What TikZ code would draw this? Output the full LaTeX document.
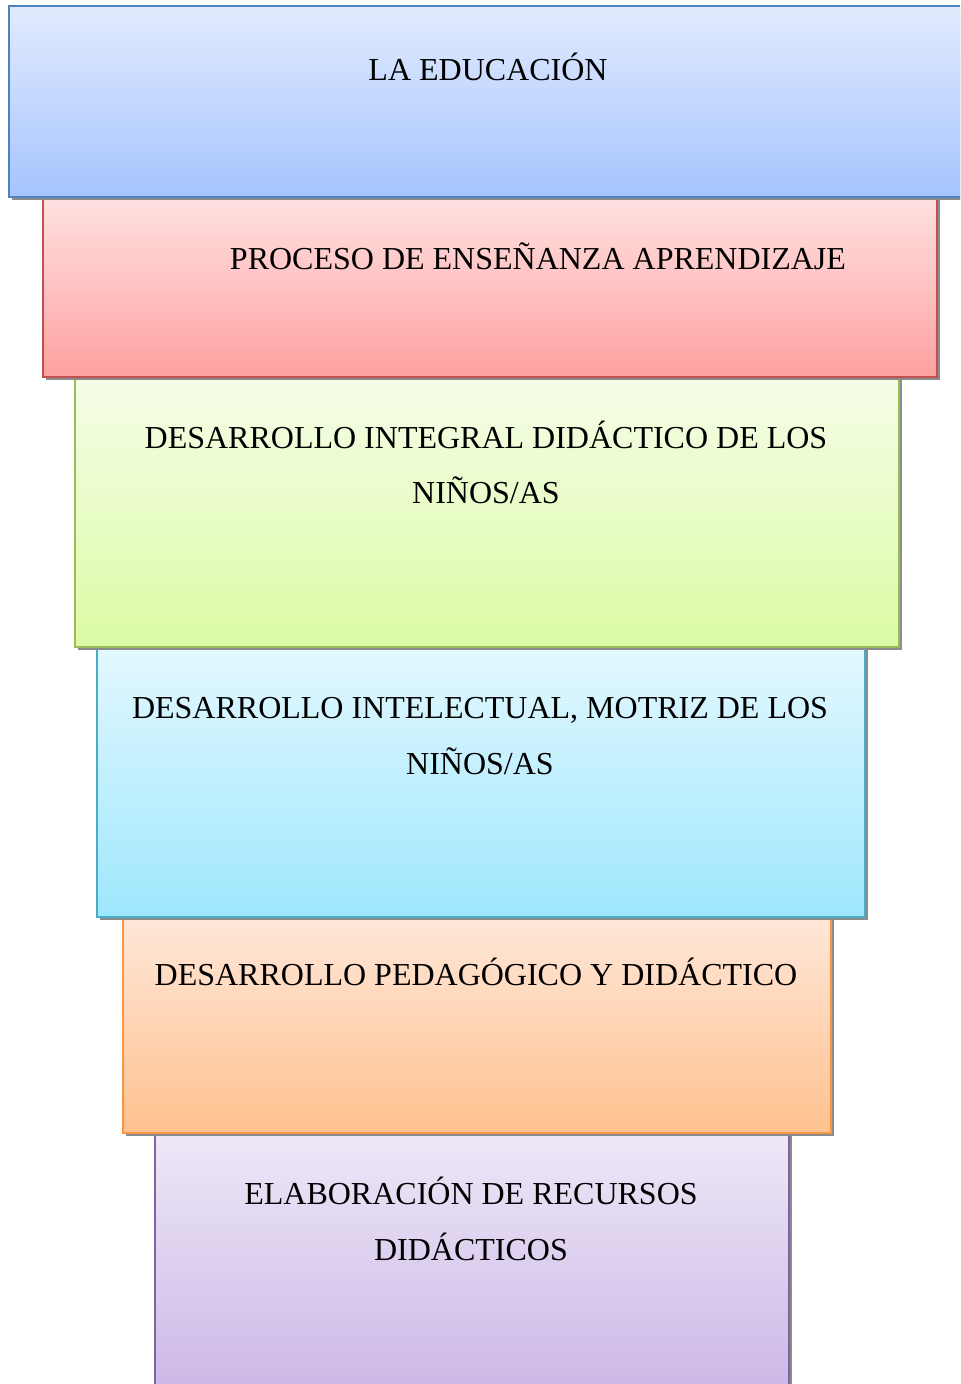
\documentclass[tikz,border=0pt]{standalone}
\usepackage{fontspec}
\setmainfont{Liberation Serif}
\usetikzlibrary{shadows}

\definecolor{blueTop}{HTML}{E2EBFE}
\definecolor{blueBot}{HTML}{A5C4FE}
\definecolor{blueLine}{HTML}{4F81BD}
\definecolor{redTop}{HTML}{FFE1E1}
\definecolor{redBot}{HTML}{FFA1A1}
\definecolor{redLine}{HTML}{C0504D}
\definecolor{greenTop}{HTML}{F5FDE8}
\definecolor{greenBot}{HTML}{DCFBA4}
\definecolor{greenLine}{HTML}{9BBB59}
\definecolor{cyanTop}{HTML}{E3F8FF}
\definecolor{cyanBot}{HTML}{9EE7FD}
\definecolor{cyanLine}{HTML}{4BACC6}
\definecolor{orangeTop}{HTML}{FFE7D8}
\definecolor{orangeBot}{HTML}{FFC18F}
\definecolor{orangeLine}{HTML}{F79646}
\definecolor{purpleTop}{HTML}{EEE8F7}
\definecolor{purpleBot}{HTML}{C9B4E6}
\definecolor{purpleLine}{HTML}{8064A2}

\tikzset{
  layer/.style={rectangle, draw=#1Line, line width=1.2pt, top color=#1Top, bottom color=#1Bot,
    drop shadow={shadow xshift=2pt, shadow yshift=-2pt, fill=black!45, opacity=1}},
  lbl/.style={align=center, inner sep=0pt, font=\fontsize{24}{41.5}\selectfont},
}

\begin{document}
\begin{tikzpicture}[x=0.75pt, y=-0.75pt]
  \useasboundingbox (0,0) rectangle (960,1384);
  \clip (0,0) rectangle (960,1384);
  % stack, drawn from the bottom up so each shadow lies on the box below
  \foreach \n/\l/\t/\r/\b/\c in {recursos/155/1133/789/1410/purple, pedagogico/123/917/831/1133/orange,
      intelectual/97/647/865/917/cyan, integral/75/377/899/647/green,
      proceso/43/197/937/377/red, educacion/9/6/980/197/blue} {
    \node[layer=\c, minimum width={(\r-\l)*0.75pt}, minimum height={(\b-\t)*0.75pt}]
      (\n) at ({(\l+\r)/2},{(\t+\b)/2}) {};
  }

  \node[lbl] (educacionT) at (488,66.5) {LA EDUCACIÓN};
  \node[lbl] (procesoT) at (538,256) {PROCESO DE ENSEÑANZA APRENDIZAJE};
  \node[lbl] (integralT) at (486,462.5) {DESARROLLO INTEGRAL DIDÁCTICO DE LOS\\NIÑOS/AS};
  \node[lbl] (intelectualT) at (480,736) {DESARROLLO INTELECTUAL, MOTRIZ DE LOS\\NIÑOS/AS};
  \node[lbl] (pedagogicoT) at (476,972) {DESARROLLO PEDAGÓGICO Y DIDÁCTICO};
  \node[lbl] (recursosT) at (471,1219) {ELABORACIÓN DE RECURSOS\\DIDÁCTICOS};
\end{tikzpicture}
\end{document}
